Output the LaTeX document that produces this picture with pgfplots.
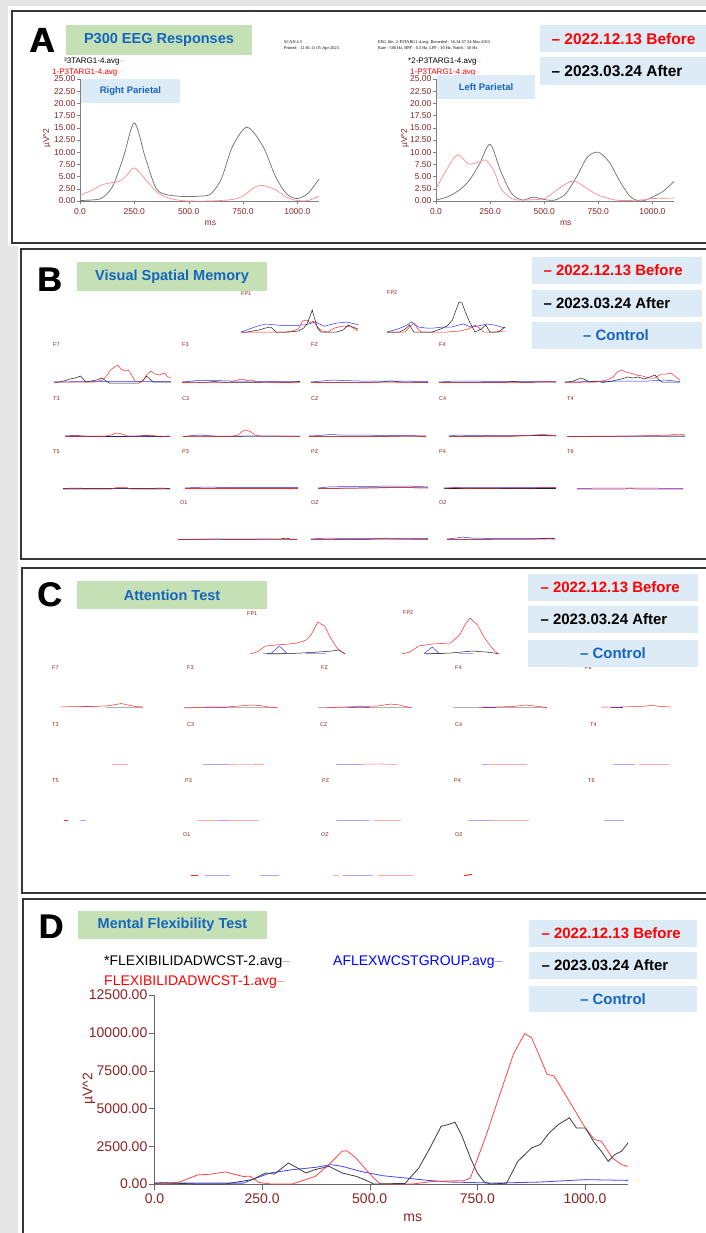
\documentclass[border=0pt]{standalone}
\usepackage{fontspec}
\setmainfont{Liberation Sans}
\newfontfamily\serifsmall{Liberation Serif}
\usepackage{pgfplots}
\pgfplotsset{compat=1.18}
\definecolor{bggray}{RGB}{230,230,230}
\definecolor{framec}{RGB}{55,55,55}
\definecolor{titlegreen}{RGB}{197,224,180}
\definecolor{legblue}{RGB}{221,235,247}
\definecolor{titleblue}{RGB}{21,101,192}
\definecolor{darkred}{RGB}{139,35,35}
\definecolor{cred}{RGB}{255,40,40}
\definecolor{cblue}{RGB}{50,50,255}
\definecolor{cblack}{RGB}{30,30,30}
\definecolor{lred}{RGB}{255,140,140}
\definecolor{lblack}{RGB}{110,110,110}
\definecolor{fpink}{RGB}{255,170,170}
\definecolor{flav}{RGB}{180,160,255}
\definecolor{dred}{RGB}{255,70,70}
\definecolor{dblack}{RGB}{60,60,60}
\definecolor{dblue}{RGB}{70,70,255}
\newcommand{\fs}[1]{\fontsize{#1}{#1}\selectfont}
\tikzset{
 cr/.style={cred, line width=0.5pt},
 ck/.style={cblack, line width=0.5pt},
 cb/.style={cblue, line width=0.5pt},
 fr/.style={fpink, line width=0.8pt},
 fb/.style={flav, line width=0.8pt},
 lab/.style={anchor=west, text=darkred, font=\fs{5.5}, inner sep=0pt},
}
\pgfplotsset{
 mini/.style={scale only axis, anchor=south west, width=#1, height=40pt,
   xmin=0, xmax=1100, ymin=0, ymax=40, axis lines=none, ticks=none, clip=false},
 pA/.style={scale only axis, anchor=south west, width=239pt, height=122pt,
   xmin=0, xmax=1100, ymin=0, ymax=25, axis x line=bottom, axis y line=left,
   axis line style={gray,-}, tick style={gray}, tick align=outside, major tick length=3pt,
   xtick={0,250,500,750,1000}, xticklabels={0.0,250.0,500.0,750.0,1000.0},
   ytick={0,2.5,5,7.5,10,12.5,15,17.5,20,22.5,25},
   yticklabels={0.00,2.50,5.00,7.50,10.00,12.50,15.00,17.50,20.00,22.50,25.00},
   ticklabel style={font=\fs{8.5}, text=darkred, inner sep=1.5pt},
   xticklabel style={yshift=-3pt}, clip=false},
}
\begin{document}
\begin{tikzpicture}[x=1pt,y=1pt]
\useasboundingbox (0,0) rectangle (706,-1233);
\fill[bggray] (0,0) rectangle (706,-1233);
\fill[white] (8,-6) rectangle (706,-246);
\fill[white] (18,-246) rectangle (706,-563);
\fill[white] (18,-563) rectangle (706,-897);
\fill[white] (18,-897) rectangle (706,-1233);
\draw[framec, line width=1.3pt] (708,-11) -- (12,-11) -- (12,-243) -- (708,-243);
\draw[framec, line width=1.3pt] (708,-249) -- (21,-249) -- (21,-559) -- (708,-559);
\draw[framec, line width=1.3pt] (708,-568) -- (22,-568) -- (22,-893) -- (708,-893);
\draw[framec, line width=1.3pt] (708,-899) -- (23,-899) -- (23,-1240);

% ================= PANEL A =================
\begin{axis}[pA, at={(80pt,-201pt)}]
\addplot[lblack, line width=0.7pt, smooth] coordinates {(0,0.1)(50,0.2)(100,0.6)(150,3)(200,9)(250,16)(300,9)(350,2.6)(400,1.3)(450,1.0)(500,0.9)(550,1.0)(600,1.4)(650,4.5)(700,11)(760,15)(800,14)(850,10.5)(900,5)(950,1.5)(1000,0.5)(1050,1.6)(1100,4.5)};
\addplot[lred, line width=0.7pt, smooth] coordinates {(0,1.2)(50,2.1)(100,3.3)(150,3.8)(180,4.0)(210,5.0)(250,6.8)(300,4.5)(350,2.0)(400,0.7)(450,0.2)(500,0)(600,0)(700,0.3)(750,1.0)(800,2.7)(840,3.2)(900,2.3)(950,0.8)(1000,0.1)(1050,0.1)(1100,1.0)};
\node[text=darkred, font=\fs{8.5}] at (axis cs:600,0) [yshift=-22pt] {ms};
\end{axis}
\begin{axis}[pA, at={(436pt,-201pt)}, width=238pt]
\addplot[lblack, line width=0.7pt, smooth] coordinates {(0,0.2)(50,0.8)(100,2)(150,4)(200,7.5)(250,11.6)(300,6)(350,1.5)(400,0.2)(450,0.8)(500,0.3)(550,0.2)(600,1.5)(650,5)(700,9)(750,10)(800,8)(850,4)(900,0.8)(950,0)(1000,0.8)(1050,2)(1100,4)};
\addplot[lred, line width=0.7pt, smooth] coordinates {(0,2.5)(50,6.5)(100,9.5)(150,7.6)(200,8.0)(230,8.4)(270,6)(300,2.5)(350,0.5)(400,0.2)(500,0.5)(550,2)(600,3.5)(640,4.1)(700,2.5)(750,1.2)(800,0.5)(850,0.1)(950,0.2)(1000,0.5)(1100,0.6)};
\node[text=darkred, font=\fs{8.5}] at (axis cs:600,0) [yshift=-22pt] {ms};
\end{axis}
\node[rotate=90, text=darkred, font=\fs{8.5}] at (47,-138) {µV\textasciicircum2};
\node[rotate=90, text=darkred, font=\fs{8.5}] at (405,-138) {µV\textasciicircum2};
\node[anchor=west, inner sep=0pt, font=\fs{8}] at (64,-62) {³3TARG1-4.avg\textcolor{gray!60}{–}};
\node[anchor=west, inner sep=0pt, font=\fs{8}, text=red] at (52,-73) {1-P3TARG1-4.avg\textcolor{red!40}{–}};
\node[anchor=west, inner sep=0pt, font=\fs{8}] at (408,-62) {*2-P3TARG1-4.avg\textcolor{gray!60}{–}};
\node[anchor=west, inner sep=0pt, font=\fs{8}, text=red] at (410,-73) {1-P3TARG1-4.avg\textcolor{red!40}{–}};
\fill[legblue] (81,-79) rectangle (180,-103);
\node[text=titleblue, font=\fs{9.5}\bfseries] at (130.5,-91) {Right Parietal};
\fill[legblue] (437,-75) rectangle (535,-99);
\node[text=titleblue, font=\fs{9.5}\bfseries] at (486,-87) {Left Parietal};
\node[font=\fs{35}\bfseries] at (42.5,-40) {A};
\node[font=\fs{35}\bfseries] at (43.1,-40) {A};
\fill[titlegreen] (66,-25) rectangle (252,-55);
\node[text=titleblue, font=\fs{14.5}\bfseries] at (159,-40) {P300 EEG Responses};
\node[anchor=west, inner sep=0pt, font=\serifsmall\fs{4.3}] at (284,-42) {SCAN 4.3};
\node[anchor=west, inner sep=0pt, font=\serifsmall\fs{4.3}] at (284,-48) {Printed : 12:01:11 05-Apr-2023};
\node[anchor=west, inner sep=0pt, font=\serifsmall\fs{4.3}] at (378,-42) {EEG file: 2-P3TARG1-4.avg\ \ Recorded : 16:34:57 24-Mar-2023};
\node[anchor=west, inner sep=0pt, font=\serifsmall\fs{4.3}] at (378,-48) {Rate - 500 Hz, HPF - 0.5 Hz, LPF - 30 Hz, Notch - 50 Hz};
\fill[legblue] (540,-25) rectangle (706,-52);
\node[anchor=west, text=red, font=\fs{15.5}\bfseries] at (548,-38.5) {– 2022.12.13 Before};
\fill[legblue] (540,-57) rectangle (706,-85);
\node[anchor=west, font=\fs{15.5}\bfseries] at (548,-71) {– 2023.03.24 After};

% ================= PANEL B =================
\node[lab] at (241,-294) {FP1};
\node[lab] at (387,-293) {FP2};
\foreach \n/\x in {F7/53,F3/182,FZ/311,F4/439} {\node[lab] at (\x,-345) {\n};}
\foreach \n/\x in {T3/53,C3/182,CZ/311,C4/439,T4/567} {\node[lab] at (\x,-399) {\n};}
\foreach \n/\x in {T5/53,P3/182,PZ/311,P4/439,T6/567} {\node[lab] at (\x,-452) {\n};}
\foreach \n/\x in {O1/180,OZ/311,O2/439} {\node[lab] at (\x,-503) {\n};}
% FP1
\begin{axis}[mini=117pt, at={(241pt,-332pt)}]
\addplot[cb] coordinates {(0,0)(148,5.7)(233,8)(360,6.7)(486,6.3)(613,7.3)(698,10)(783,5.7)(888,8.7)(994,10)(1100,7.3)};
\addplot[cr] coordinates {(0,0)(420,0)(480,1)(540,3)(580,11)(620,12)(650,9)(680,11)(710,6)(760,1)(820,0)(880,4)(960,6)(1040,5)(1100,1)};
\addplot[ck] coordinates {(0,0)(60,0)(110,1)(170,2)(230,4)(280,5)(330,0)(450,0)(540,1)(590,4)(620,8)(650,16)(670,22)(690,14)(720,4)(750,0)(900,0)(960,2)(1010,7)(1050,5)(1100,3)};
\end{axis}
% FP2
\begin{axis}[mini=118pt, at={(387pt,-332pt)}]
\addplot[cb] coordinates {(0,0)(100,3)(170,6)(230,10)(290,5)(360,4)(440,4)(520,5)(600,5)(670,7)(714,8)(780,5)(850,6)(930,8)(1000,7)(1100,4)};
\addplot[cr] coordinates {(0,0)(170,0)(210,5)(250,9)(280,4)(320,0)(560,0)(680,1)(760,3)(820,7)(860,4)(900,0)(1000,0)(1100,1)};
\addplot[ck] coordinates {(0,0)(120,0)(170,3)(210,7)(250,0)(420,0)(500,3)(560,6)(610,12)(650,24)(672,30)(700,29)(730,20)(770,10)(820,0)(880,3)(920,7)(960,0)(1040,0)(1100,5)};
\end{axis}
% F7
\begin{axis}[mini=117pt, at={(54pt,-383pt)}]
\addplot[cb] coordinates {(0,1)(300,1.5)(600,1.5)(900,1.5)(1100,1.5)};
\addplot[ck] coordinates {(0,0)(50,1)(90,2)(150,4)(200,5)(250,7)(300,1)(350,2)(400,3)(450,5)(490,2)(520,0)(800,0)(840,3)(870,7)(900,4)(930,1)(1000,1)(1100,1)};
\addplot[cr] coordinates {(0,1)(200,1)(380,1)(460,3)(500,8)(530,13)(570,16)(600,18)(630,14)(660,12)(700,13)(730,8)(760,2)(830,1)(870,8)(910,12)(950,9)(990,8)(1040,10)(1070,6)(1100,5)};
\end{axis}
% F3
\begin{axis}[mini=118pt, at={(182pt,-383pt)}]
\addplot[cb] coordinates {(0,1)(150,2.5)(300,2.5)(450,2)(600,2)(800,1.5)(1100,1.5)};
\addplot[ck] coordinates {(0,0.5)(100,1)(200,0.5)(300,1.5)(400,0.5)(700,0.5)(800,1)(1000,0.5)(1100,1.5)};
\addplot[cr] coordinates {(0,0.5)(300,0.5)(450,1)(520,3)(560,4)(600,2.5)(650,3)(700,1)(900,0.5)(1100,0.5)};
\end{axis}
% FZ
\begin{axis}[mini=117pt, at={(311pt,-383pt)}]
\addplot[cb] coordinates {(0,1)(100,2)(200,3)(300,2.5)(450,2)(600,2)(800,2)(1100,1.5)};
\addplot[ck] coordinates {(0,0.5)(500,0.5)(650,1)(750,2)(850,1)(1100,0.5)};
\addplot[cr] coordinates {(0,0.5)(600,0.5)(700,1)(900,0.5)(1100,1)};
\end{axis}
% F4
\begin{axis}[mini=117pt, at={(439pt,-383pt)}]
\addplot[cb] coordinates {(0,1)(150,2)(300,2)(500,1.5)(800,1.5)(1100,1.5)};
\addplot[ck] coordinates {(0,0.5)(600,0.5)(700,1.5)(800,0.5)(1000,1)(1100,1)};
\addplot[cr] coordinates {(0,0.5)(700,0.5)(900,1)(1000,1.5)(1100,1)};
\end{axis}
% F8
\begin{axis}[mini=115pt, at={(565pt,-383pt)}]
\addplot[cb] coordinates {(0,1)(300,1.5)(600,2)(800,2)(950,3)(1000,2.5)(1100,1.5)};
\addplot[ck] coordinates {(0,0.5)(80,2)(151,5)(200,3)(230,1)(300,2)(360,0.5)(450,2)(540,4)(600,6)(650,5)(700,6)(760,4)(810,6)(862,8)(900,3)(930,1)(1100,1)};
\addplot[cr] coordinates {(0,0.5)(300,1)(400,3)(460,6)(500,11)(540,13)(580,11)(625,10)(680,8)(740,7)(800,5)(860,5)(920,9)(970,9)(1014,10)(1060,6)(1100,3)};
\end{axis}
% T3
\begin{axis}[mini=105pt, at={(65pt,-437pt)}]
\addplot[cb] coordinates {(0,0.5)(1100,0.5)};
\addplot[ck] coordinates {(0,1)(100,1.5)(200,1)(600,0.5)(750,1)(850,1.5)(1000,0.5)(1100,1)};
\addplot[cr] coordinates {(0,0.5)(400,0.5)(480,2)(540,4)(600,3)(650,1)(800,1)(880,2)(950,1)(1100,0.5)};
\end{axis}
% C3
\begin{axis}[mini=117pt, at={(183pt,-437pt)}]
\addplot[cb] coordinates {(0,0.5)(150,2)(300,1)(700,1)(1100,1)};
\addplot[ck] coordinates {(0,0.5)(100,1)(200,1)(300,0.5)(800,1)(1000,1)(1100,0.5)};
\addplot[cr] coordinates {(0,0.5)(450,0.5)(520,2)(560,6)(600,7)(640,5)(680,2)(720,1)(1100,0.5)};
\end{axis}
% CZ
\begin{axis}[mini=117pt, at={(309pt,-437pt)}]
\addplot[cb] coordinates {(0,1)(100,1.5)(200,2.5)(300,2)(500,2)(700,1.5)(900,1.5)(1100,1)};
\addplot[ck] coordinates {(0,0.5)(700,0.5)(800,1)(1000,1)(1100,0.5)};
\addplot[cr] coordinates {(0,0.5)(800,0.5)(900,1)(1100,0.5)};
\end{axis}
% C4
\begin{axis}[mini=107pt, at={(449pt,-437pt)}]
\addplot[cb] coordinates {(0,1)(100,2)(200,1.5)(500,1.5)(800,1.5)(1100,1.5)};
\addplot[ck] coordinates {(0,0.5)(700,1)(900,1.5)(1100,1)};
\addplot[cr] coordinates {(0,0.5)(600,0.5)(800,1.5)(950,2.5)(1050,2)(1100,1)};
\end{axis}
% T4
\begin{axis}[mini=118pt, at={(567pt,-437pt)}]
\addplot[cb] coordinates {(0,0.5)(400,1)(800,1)(1100,1)};
\addplot[ck] coordinates {(0,0.5)(900,1)(1100,1)};
\addplot[cr] coordinates {(0,0.5)(500,0.5)(800,1.5)(950,2)(1050,3)(1100,2)};
\end{axis}
% T5
\begin{axis}[mini=107pt, at={(63pt,-489pt)}]
\addplot[cb] coordinates {(0,0.5)(100,1)(300,0.5)(600,0.5)(1100,0.5)};
\addplot[ck] coordinates {(0,0.5)(100,0.5)(900,0.5)(1000,1)(1100,0.5)};
\addplot[cr] coordinates {(0,0)(500,0)(550,1.5)(650,1.5)(700,0)(1100,0)};
\end{axis}
% P3
\begin{axis}[mini=113pt, at={(185pt,-489pt)}]
\addplot[cb] coordinates {(0,1)(200,2)(400,1.5)(600,1.5)(900,1.5)(1100,1.5)};
\addplot[ck] coordinates {(0,0.5)(600,1)(900,1)(1100,1)};
\addplot[cr] coordinates {(0,0.5)(1100,0.5)};
\end{axis}
% PZ
\begin{axis}[mini=110pt, at={(318pt,-489pt)}]
\addplot[cb] coordinates {(0,1)(100,2)(300,2.5)(500,2.5)(700,3)(900,3)(1100,2)};
\addplot[ck] coordinates {(0,0.5)(400,1)(800,1.5)(1100,1)};
\addplot[cr] coordinates {(0,0.5)(500,1)(900,1.5)(1100,1)};
\end{axis}
% P4
\begin{axis}[mini=112pt, at={(444pt,-489pt)}]
\addplot[cb] coordinates {(0,1)(200,1.5)(500,1.5)(1100,1.5)};
\addplot[ck] coordinates {(0,0.5)(1100,0.5)};
\addplot[cr] coordinates {(0,0.5)(100,1.5)(200,0.5)(900,1)(1000,2)(1100,1)};
\end{axis}
% T6
\begin{axis}[mini=106pt, at={(577pt,-489pt)}]
\addplot[cb] coordinates {(0,0.5)(300,1)(600,1)(1100,0.5)};
\addplot[cr] coordinates {(0,0)(500,0)(550,1)(600,0)(1100,0)};
\end{axis}
% O1
\begin{axis}[mini=119pt, at={(178pt,-540pt)}]
\addplot[cb] coordinates {(0,0.5)(500,1)(1100,1)};
\addplot[ck] coordinates {(0,0.5)(300,1)(500,0.5)(950,1)(1000,2)(1050,0.5)(1100,0.5)};
\addplot[cr] coordinates {(0,0.5)(600,1)(1100,0.5)};
\end{axis}
% OZ
\begin{axis}[mini=117pt, at={(311pt,-540pt)}]
\addplot[cb] coordinates {(0,1)(150,2)(300,1.5)(600,1.5)(1100,1.5)};
\addplot[ck] coordinates {(0,0.5)(1100,1)};
\addplot[cr] coordinates {(0,0.5)(600,1)(700,2)(800,1)(1100,0.5)};
\end{axis}
% O2
\begin{axis}[mini=108pt, at={(447pt,-540pt)}]
\addplot[cb] coordinates {(0,1)(100,2)(150,3)(250,2)(500,1.5)(1100,1.5)};
\addplot[ck] coordinates {(0,0.5)(900,1)(1050,2)(1100,1)};
\addplot[cr] coordinates {(0,0.5)(300,1)(1100,1)};
\end{axis}
\node[font=\fs{34}\bfseries] at (49.5,-280) {B};
\node[font=\fs{34}\bfseries] at (50.1,-280) {B};
\fill[titlegreen] (77,-262) rectangle (267,-291);
\node[text=titleblue, font=\fs{14.5}\bfseries] at (172,-276.5) {Visual Spatial Memory};
\fill[legblue] (532,-257) rectangle (702,-284);
\node[anchor=west, text=red, font=\fs{15}\bfseries] at (540,-270.5) {– 2022.12.13 Before};
\fill[legblue] (532,-290) rectangle (702,-317);
\node[anchor=west, font=\fs{15}\bfseries] at (540,-303.5) {– 2023.03.24 After};
\fill[legblue] (532,-322) rectangle (702,-349);
\node[text=titleblue, font=\fs{15}\bfseries] at (616,-335.5) {– Control};

% ================= PANEL C =================
\node[lab] at (247,-614) {FP1};
\node[lab] at (403,-613) {FP2};
\foreach \n/\x in {F7/52,F3/187,FZ/321,F4/455,F8/585} {\node[lab] at (\x,-668) {\n};}
\foreach \n/\x in {T3/52,C3/187,CZ/320,C4/455,T4/590} {\node[lab] at (\x,-725) {\n};}
\foreach \n/\x in {T5/52,P3/185,PZ/322,P4/454,T6/588} {\node[lab] at (\x,-781) {\n};}
\foreach \n/\x in {O1/183,OZ/321,O2/455} {\node[lab] at (\x,-835) {\n};}
\begin{axis}[mini=95pt, at={(250pt,-654pt)}]
\addplot[gray!70, line width=0.8pt] coordinates {(150,0.3)(420,0.3)};
\addplot[ck] coordinates {(200,0)(400,0.3)(600,1)(800,2)(950,3)(1022,4)(1070,2)(1100,0)};
\addplot[cb] coordinates {(200,0.3)(250,1)(340,8)(430,0.5)};
\addplot[flav, line width=0.8pt] coordinates {(650,0.5)(880,0.5)};
\addplot[cr] coordinates {(0,0)(80,2)(180,8)(300,9)(450,10)(550,11)(650,14)(707,19)(760,28)(786,32)(820,30)(865,28)(920,18)(969,11)(1010,6)(1048,3)(1100,0)};
\end{axis}
\begin{axis}[mini=97pt, at={(402pt,-654pt)}]
\addplot[gray!70, line width=0.8pt] coordinates {(250,0.3)(480,0.3)};
\addplot[ck] coordinates {(270,0)(550,1)(800,3)(950,2)(1050,1)(1100,0)};
\addplot[cb] coordinates {(250,0.5)(344,7)(420,0.5)};
\addplot[flav, line width=0.8pt] coordinates {(650,0.5)(800,0.5)};
\addplot[cr] coordinates {(0,0)(90,2)(190,8)(344,10)(450,10.5)(550,11)(653,19)(720,30)(771,36)(820,32)(858,29)(910,20)(961,13)(1020,6)(1064,2)(1100,0)};
\end{axis}
\begin{axis}[mini=82pt, at={(61pt,-708pt)}]
\addplot[gray!60, line width=0.8pt] coordinates {(600,0.3)(1100,0.3)};
\addplot[cb] coordinates {(250,1)(350,1.5)(450,1)};
\addplot[cr] coordinates {(0,1)(200,1.5)(400,1.5)(600,2)(700,3)(810,4.5)(900,3)(1000,1.5)(1100,1)};
\end{axis}
\begin{axis}[mini=93pt, at={(184pt,-708pt)}]
\addplot[gray!60, line width=0.8pt] coordinates {(0,0.2)(1100,0.2)};
\addplot[cb] coordinates {(250,1)(400,1)(500,0.5)};
\addplot[cr] coordinates {(0,0)(200,0.5)(300,1)(500,1)(650,2)(800,3)(900,2.5)(1000,1)(1100,0.5)};
\end{axis}
\begin{axis}[mini=94pt, at={(318pt,-708pt)}]
\addplot[gray!60, line width=0.8pt] coordinates {(0,0.2)(1100,0.2)};
\addplot[cb] coordinates {(350,0.5)(500,1)(600,0.5)};
\addplot[cr] coordinates {(100,0.5)(300,1)(500,1.5)(700,2)(850,4)(950,3)(1050,1)(1100,0.5)};
\end{axis}
\begin{axis}[mini=94pt, at={(453pt,-708pt)}]
\addplot[gray!60, line width=0.8pt] coordinates {(0,0.2)(1100,0.2)};
\addplot[cb] coordinates {(350,1)(500,1)};
\addplot[cr] coordinates {(300,1)(500,1)(700,1.5)(850,3)(950,2)(1050,1)(1100,0.5)};
\end{axis}
\begin{axis}[mini=70pt, at={(601pt,-708pt)}]
\addplot[cb] coordinates {(150,1)(350,1)};
\addplot[cr] coordinates {(0,1)(300,1)(600,1.5)(800,2.5)(950,1.5)(1100,1)};
\end{axis}
% faint rows
\begin{axis}[mini=82pt, at={(61pt,-765pt)}]
\addplot[fr] coordinates {(684,0.5)(899,0.5)};
\end{axis}
\begin{axis}[mini=93pt, at={(184pt,-765pt)}]
\addplot[fb] coordinates {(225,0.3)(520,0.3)};
\addplot[fr] coordinates {(520,0.5)(700,0.8)(947,0.5)};
\end{axis}
\begin{axis}[mini=94pt, at={(318pt,-765pt)}]
\addplot[fb] coordinates {(211,0.5)(520,0.5)};
\addplot[fr] coordinates {(520,0.6)(700,1)(924,0.5)};
\end{axis}
\begin{axis}[mini=94pt, at={(453pt,-765pt)}]
\addplot[fb] coordinates {(339,0.8)(420,0.8)};
\addplot[fr] coordinates {(420,0.5)(865,0.5)};
\end{axis}
\begin{axis}[mini=90pt, at={(590pt,-765pt)}]
\addplot[fb] coordinates {(281,0.3)(550,0.3)};
\addplot[fr] coordinates {(600,0.3)(965,0.3)};
\end{axis}
\begin{axis}[mini=82pt, at={(61pt,-821pt)}]
\addplot[cr, line width=1pt] coordinates {(40,0.3)(90,0.3)};
\addplot[fb] coordinates {(250,0.3)(335,0.3)};
\end{axis}
\begin{axis}[mini=93pt, at={(184pt,-821pt)}]
\addplot[fr] coordinates {(166,0.3)(887,0.3)};
\addplot[fb] coordinates {(400,0.4)(520,0.4)};
\end{axis}
\begin{axis}[mini=94pt, at={(318pt,-821pt)}]
\addplot[fb] coordinates {(211,0.3)(600,0.3)};
\addplot[fr] coordinates {(650,0.3)(971,0.3)};
\end{axis}
\begin{axis}[mini=94pt, at={(453pt,-821pt)}]
\addplot[fb] coordinates {(176,0.3)(450,0.3)};
\addplot[fr] coordinates {(450,0.5)(890,0.5)};
\end{axis}
\begin{axis}[mini=90pt, at={(590pt,-821pt)}]
\addplot[fb] coordinates {(171,0.3)(416,0.3)};
\end{axis}
\begin{axis}[mini=93pt, at={(188pt,-876pt)}]
\addplot[cr, line width=1pt] coordinates {(35,0.3)(120,0.3)};
\addplot[fb] coordinates {(200,0.3)(500,0.3)};
\addplot[fb] coordinates {(850,0.3)(1076,0.3)};
\end{axis}
\begin{axis}[mini=94pt, at={(322pt,-876pt)}]
\addplot[fr] coordinates {(123,0.5)(200,0.5)};
\addplot[fb] coordinates {(250,0.5)(600,0.5)};
\addplot[fr] coordinates {(650,0.5)(1070,0.5)};
\end{axis}
\begin{axis}[mini=94pt, at={(453pt,-876pt)}]
\addplot[cr, line width=1pt] coordinates {(129,0.5)(222,1.5)};
\end{axis}
\node[font=\fs{34}\bfseries] at (49.5,-595) {C};
\node[font=\fs{34}\bfseries] at (50.1,-595) {C};
\fill[titlegreen] (77,-581) rectangle (267,-609);
\node[text=titleblue, font=\fs{14.5}\bfseries] at (172,-595) {Attention Test};
\fill[legblue] (528,-574) rectangle (698,-601);
\node[anchor=west, text=red, font=\fs{15}\bfseries] at (537,-587.5) {– 2022.12.13 Before};
\fill[legblue] (528,-606) rectangle (698,-633);
\node[anchor=west, font=\fs{15}\bfseries] at (537,-619.5) {– 2023.03.24 After};
\fill[legblue] (528,-640) rectangle (698,-667);
\node[text=titleblue, font=\fs{15}\bfseries] at (613,-653.5) {– Control};

% ================= PANEL D =================
\begin{axis}[scale only axis, anchor=south west, at={(154.5pt,-1184pt)}, width=473.5pt, height=189pt,
  xmin=0, xmax=1100, ymin=0, ymax=12500, axis x line=bottom, axis y line=left,
  axis line style={gray!80!black,-}, tick style={gray!80!black}, tick align=outside, major tick length=6pt,
  scaled y ticks=false, scaled x ticks=false,
  xtick={0,250,500,750,1000}, xticklabels={0.0,250.0,500.0,750.0,1000.0},
  ytick={0,2500,5000,7500,10000,12500},
  yticklabels={0.00,2500.00,5000.00,7500.00,10000.00,12500.00},
  ticklabel style={font=\fs{14}, text=darkred, inner sep=1pt},
  xticklabel style={yshift=-3pt}, clip=false]
\addplot[dblue, line width=0.8pt] coordinates {(0,60)(100,60)(206,60)(237,400)(269,730)(321,950)(373,1100)(410,1280)(436,1170)(478,840)(530,550)(582,400)(635,240)(687,130)(792,60)(896,130)(1001,290)(1100,240)};
\addplot[dred, line width=0.8pt] coordinates {(0,0)(30,20)(60,150)(100,600)(130,650)(164,800)(206,500)(222,520)(243,100)(270,0)(320,0)(373,500)(405,1280)(436,2170)(447,2200)(468,1720)(488,1060)(509,400)(525,0)(600,0)(645,170)(719,220)(734,400)(771,3270)(802,5900)(834,8600)(860,9950)(876,9680)(896,8350)(912,7250)(928,7150)(959,5700)(1001,3700)(1022,2940)(1038,2830)(1064,1720)(1085,1280)(1100,1170)};
\addplot[dblack, line width=0.8pt] coordinates {(0,50)(20,90)(40,60)(100,0)(164,0)(227,290)(258,730)(279,660)(311,1390)(332,1060)(352,730)(373,950)(405,1170)(436,730)(468,510)(488,290)(509,0)(582,40)(614,1060)(640,2390)(666,3820)(682,3930)(698,4090)(713,3270)(734,1720)(750,730)(766,130)(781,0)(818,60)(844,1500)(876,2390)(896,2610)(917,3380)(938,3930)(964,4380)(980,3710)(1001,3710)(1022,2720)(1038,2170)(1054,1500)(1069,1940)(1085,2170)(1100,2720)};
\node[text=darkred, font=\fs{14}] at (axis cs:600,0) [yshift=-34pt] {ms};
\end{axis}
\node[rotate=90, text=darkred, font=\fs{14}] at (89,-1089) {µV\textasciicircum2};
\node[anchor=west, inner sep=0pt, font=\fs{14}] at (104,-962) {*FLEXIBILIDADWCST-2.avg\textcolor{gray!60}{–}};
\node[anchor=west, inner sep=0pt, font=\fs{14}, text=red] at (104,-982) {FLEXIBILIDADWCST-1.avg\textcolor{red!40}{–}};
\node[anchor=west, inner sep=0pt, font=\fs{14}, text=blue] at (333,-962) {AFLEXWCSTGROUP.avg\textcolor{blue!40}{–}};
\node[font=\fs{34}\bfseries] at (51,-926.5) {D};
\node[font=\fs{34}\bfseries] at (51.6,-926.5) {D};
\fill[titlegreen] (78,-911) rectangle (267,-939);
\node[text=titleblue, font=\fs{14.5}\bfseries] at (172.5,-925) {Mental Flexibility Test};
\fill[legblue] (529,-920) rectangle (697,-947);
\node[anchor=west, text=red, font=\fs{15}\bfseries] at (538,-933.5) {– 2022.12.13 Before};
\fill[legblue] (529,-952) rectangle (697,-979);
\node[anchor=west, font=\fs{15}\bfseries] at (538,-965.5) {– 2023.03.24 After};
\fill[legblue] (529,-986) rectangle (697,-1012);
\node[text=titleblue, font=\fs{15}\bfseries] at (613,-999) {– Control};
\end{tikzpicture}
\end{document}
